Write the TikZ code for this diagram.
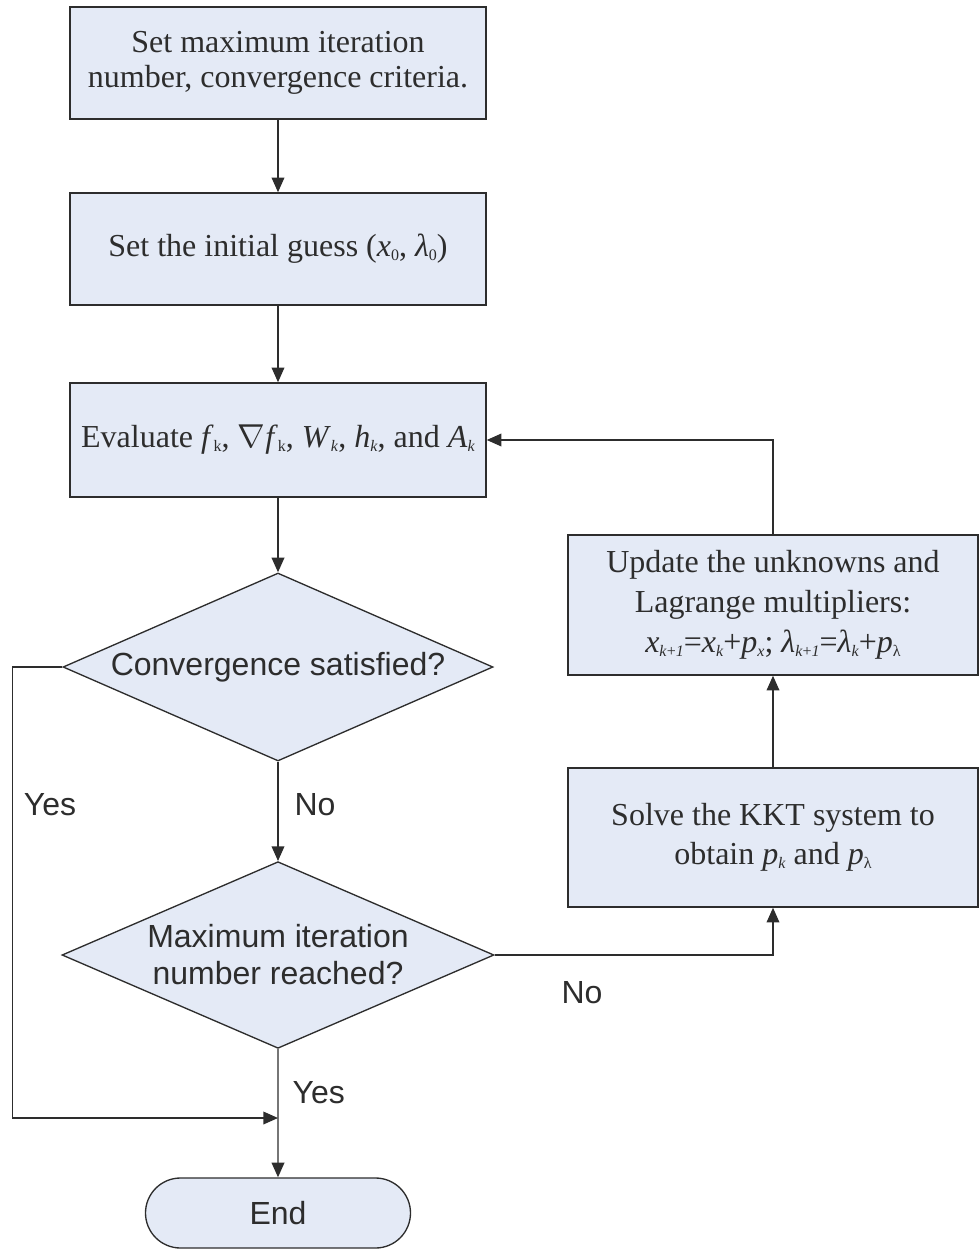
\documentclass[tikz,border=0pt]{standalone}
\usepackage{fontspec}
\setmainfont{Liberation Serif}
\newfontfamily\labelfont{Liberation Sans}
\usetikzlibrary{shapes.geometric,shapes.misc,arrows.meta}
\definecolor{boxfill}{RGB}{228,234,246}
\definecolor{ink}{RGB}{45,45,45}
% small lowered index, set at half the body size
\newcommand{\sbs}[1]{\raisebox{-0.25ex}{\fontsize{12}{12}\selectfont #1}}
\newcommand{\vi}[1]{\textit{#1}}

\begin{document}
\begin{tikzpicture}[x=0.75pt,y=-0.75pt,
  every node/.style={text=ink},
  procbox/.style={draw=ink, fill=boxfill, line width=1.1pt, rectangle,
    align=center, inner sep=0pt, font=\fontsize{24}{26.25}\selectfont},
  decision/.style={draw=ink, fill=boxfill, line width=1pt, diamond,
    shape aspect=2.3, align=center, inner sep=0pt,
    font=\labelfont\fontsize{24}{27.75}\selectfont},
  terminal/.style={draw=ink, fill=boxfill, line width=1pt, rounded rectangle,
    inner sep=0pt, font=\labelfont\fontsize{24}{28}\selectfont},
  flow/.style={draw=ink, line width=1.1pt, -{Triangle[length=11pt,width=9.5pt]}},
  tag/.style={font=\labelfont\fontsize{24}{28}\selectfont}
]
\useasboundingbox (0,0) rectangle (978,1252);

% main column
\node[procbox, minimum width=312pt, minimum height=84pt] (setmax) at (278,63)
  {Set maximum iteration\\number, convergence criteria.};
\node[procbox, minimum width=312pt, minimum height=84pt] (guess) at (278,249)
  {Set the initial guess (\vi{x}\sbs{0}, \vi{λ}\sbs{0})};
\node[procbox, minimum width=312pt, minimum height=85.5pt] (eval) at (278,440)
  {Evaluate \vi{f}\sbs{k}, $\nabla$\vi{f}\sbs{k}, \vi{W}\sbs{\vi{k}}, \vi{h}\sbs{\vi{k}}, and \vi{A}\sbs{\vi{k}}};
\node[decision, minimum width=322.5pt, minimum height=141pt] (conv) at (278,667)
  {Convergence satisfied?};
\node[decision, minimum width=324pt, minimum height=140pt] (maxit) at (278,955)
  {Maximum iteration\\number reached?};
\node[terminal, minimum width=198.75pt, minimum height=52.5pt] (end) at (278,1213)
  {End};

% right column
\node[procbox, minimum width=307.5pt, minimum height=105pt,
  font=\fontsize{24}{30}\selectfont] (update) at (773,605)
  {Update the unknowns and\\Lagrange multipliers:\\
   \vi{x}\sbs{\vi{k}+\vi{1}}=\vi{x}\sbs{\vi{k}}+\vi{p}\sbs{\vi{x}}; 
   \vi{λ}\sbs{\vi{k}+\vi{1}}=\vi{λ}\sbs{\vi{k}}+\vi{p}\sbs{λ}};
\node[procbox, minimum width=307.5pt, minimum height=104.25pt,
  font=\fontsize{24}{29.25}\selectfont] (solve) at (773,837.5)
  {Solve the KKT system to\\obtain \vi{p}\sbs{\vi{k}} and \vi{p}\sbs{λ}};

% connectors
\draw[flow] (setmax) -- (guess);
\draw[flow] (guess) -- (eval);
\draw[flow] (eval) -- (conv);
\draw[flow] (conv) -- (maxit);
\coordinate (join) at (278,1118);
\draw[flow] (conv.west) -- ++(-50,0) |- (join);
\draw[flow] (maxit) -- (end);
\draw[flow] (maxit.east) -| (solve.south);
\draw[flow] (solve) -- (update);
\draw[flow] (update.north) |- (eval.east);

% branch labels
\node[tag] (yesleft) at (50,805) {Yes};
\node[tag] (nodown) at (315,805) {No};
\node[tag, anchor=west] (yesdown) at (288,1093) {Yes};
\node[tag] (noright) at (582,993) {No};
\end{tikzpicture}
\end{document}
